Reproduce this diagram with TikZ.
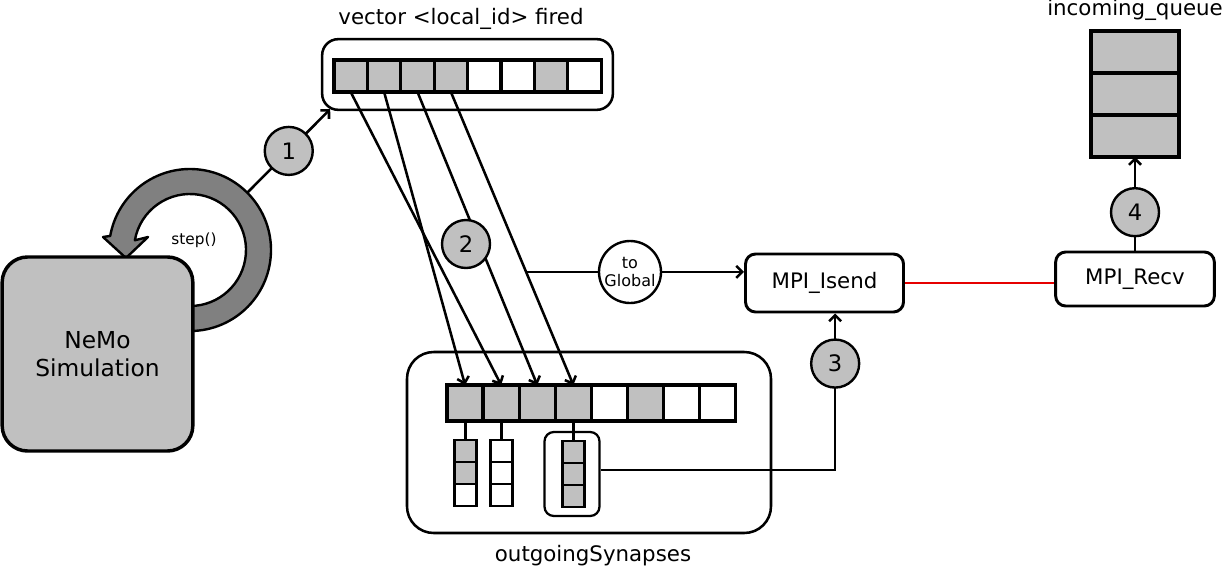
\documentclass[tikz,border=0pt]{standalone}
\usepackage{fontspec}
\setmainfont{DejaVu Sans}
\usetikzlibrary{arrows.meta, positioning, calc}
\definecolor{hellgrau}{RGB}{192,192,192}
\definecolor{dunkelgrau}{RGB}{128,128,128}
\definecolor{rotlinie}{RGB}{230,0,0}

\begin{document}
\begin{tikzpicture}[x=0.75pt, y=-0.75pt,
				>={Straight Barb[length=4.5pt,width=9pt]},   %Voreinstellung für Pfeilspitzen
				font=\fontsize{16}{19}\selectfont,
				zelle/.style={draw, line width=2.4pt, fill=white, minimum width=25pt, minimum height=24pt, inner sep=0pt, outer sep=0pt},
				voll/.style={fill=hellgrau}, leer/.style={},
				behaelter/.style={draw, line width=1.9pt, inner sep=0pt},
				nummer/.style={circle, draw, line width=1.8pt, fill=hellgrau, minimum size=36pt, inner sep=0pt, font=\fontsize{17}{20}\selectfont},
				mpi/.style={draw, line width=2.2pt, rounded corners=7.5pt, inner sep=0pt},
				pfeil/.style={->, line width=1.9pt}]
				%Bildbereich
				\useasboundingbox (0,0) rectangle (1223,568);
				%Schleife step()
				\filldraw[fill=dunkelgrau, line width=1.8pt, line join=round]
					(190,250) ++(95:81) arc[start angle=95, end angle=-170, radius=81]
					-- (103,237) -- (126,258) -- (148,237)
					-- ($(190,250)+(-170:56)$) arc[start angle=-170, end angle=95, radius=56] -- cycle;
				\node[font=\fontsize{11.5}{13}\selectfont] (steplabel) at (194,240) {step()};
				%Simulation
				\node[draw, line width=2.6pt, fill=hellgrau, rounded corners=19pt, minimum width=143pt, minimum height=145.5pt, align=center, font=\fontsize{17.5}{21}\selectfont] (nemo) at (97.5,354) {NeMo\\Simulation};
				%Vektor fired
				\node[behaelter, rounded corners=12pt, minimum width=218pt, minimum height=53pt] (firedbox) at (467.5,74.5) {};
				\node (firedlabel) at (461,19) {vector <local\_id> fired};
				\foreach \i/\f in {1/voll,2/voll,3/voll,4/voll,5/leer,6/leer,7/voll,8/leer}
					\node[zelle, \f] (t\i) at ({334+33.4*(\i-0.5)},76) {};
				%Schritt 1
				\coordinate (ringpunkt) at ($(190,250)+(-45:81)$);
				\draw[pfeil] (ringpunkt) -- node[nummer] (eins) {1} ([xshift=7pt,yshift=1.5pt]firedbox.south west);
				%outgoingSynapses
				\node[behaelter, rounded corners=20pt, minimum width=273pt, minimum height=135.75pt] (synapsen) at (589,442.5) {};
				\node (synlabel) at (593,556) {outgoingSynapses};
				\foreach \i/\f in {1/voll,2/voll,3/voll,4/voll,5/leer,6/voll,7/leer,8/leer}
					\node[zelle, \f, minimum width=27.1pt, minimum height=27pt] (b\i) at ({447+36.1*(\i-0.5)},403) {};
				\node[behaelter, line width=1.7pt, rounded corners=7pt, minimum width=41.25pt, minimum height=63pt] (synbox) at (572,474) {};
				\foreach \j/\f/\g in {1/voll/leer,2/voll/leer,3/leer/leer} {
					\node[zelle, \f, line width=2.2pt, minimum width=16.5pt, minimum height=16.5pt] (k\j) at ($(b1)+(0,{26+22*\j})$) {};
					\node[zelle, \g, line width=2.2pt, minimum width=16.5pt, minimum height=16.5pt] (m\j) at ($(b2)+(0,{26+22*\j})$) {};
					\node[zelle, voll, line width=2.2pt, minimum width=16.5pt, minimum height=16.5pt] (s\j) at ($(b4)+(0,{27+22*\j})$) {};
				}
				\draw[line width=2.2pt] (b1.south) -- (k1.north);
				\draw[line width=2.2pt] (b2.south) -- (m1.north);
				\draw[line width=2.2pt] (b4.south) -- (s1.north);
				%MPI
				\node[mpi, minimum width=118.5pt, minimum height=43.5pt] (isend) at (824.5,283) {MPI\_Isend};
				\node[mpi, minimum width=119pt, minimum height=40.5pt] (recv) at (1135,279) {MPI\_Recv};
				\draw[line width=1.9pt, rotlinie] (isend.east) -- (isend.east -| recv.west);
				%Schritt 2
				\draw[pfeil] (t1.south) -- (b2.north);
				\draw[pfeil] (t2.south) -- (b1.north);
				\draw[pfeil] (t3.south) -- (b3.north);
				\draw[pfeil] (t4.south) -- (b4.north);
				\node[nummer] (zwei) at (466,244) {2};
				\coordinate (abzweig) at ($(t4.south)!0.614!(b4.north)$);
				\draw[pfeil] (abzweig) -- (abzweig -| isend.west);
				\node[circle, draw, line width=1.8pt, fill=white, minimum size=46.5pt, inner sep=0pt, align=center, font=\fontsize{12}{13.5}\selectfont] (global) at (630,272) {to\\Global};
				%Schritt 3
				\draw[pfeil] ([yshift=3pt]synbox.east) -| node[nummer, pos=0.84] (drei) {3} ([xshift=8pt]isend.south);
				%incoming_queue
				\foreach \j in {1,2,3}
					\node[zelle, voll, minimum width=66pt, minimum height=31.5pt] (q\j) at (1135,{10+42*\j}) {};
				\node (queuelabel) at (1135,10) {incoming\_queue};
				%Schritt 4
				\draw[pfeil] (recv.north) -- node[nummer, pos=0.41] (vier) {4} (q3.south);
			\end{tikzpicture}
\end{document}
